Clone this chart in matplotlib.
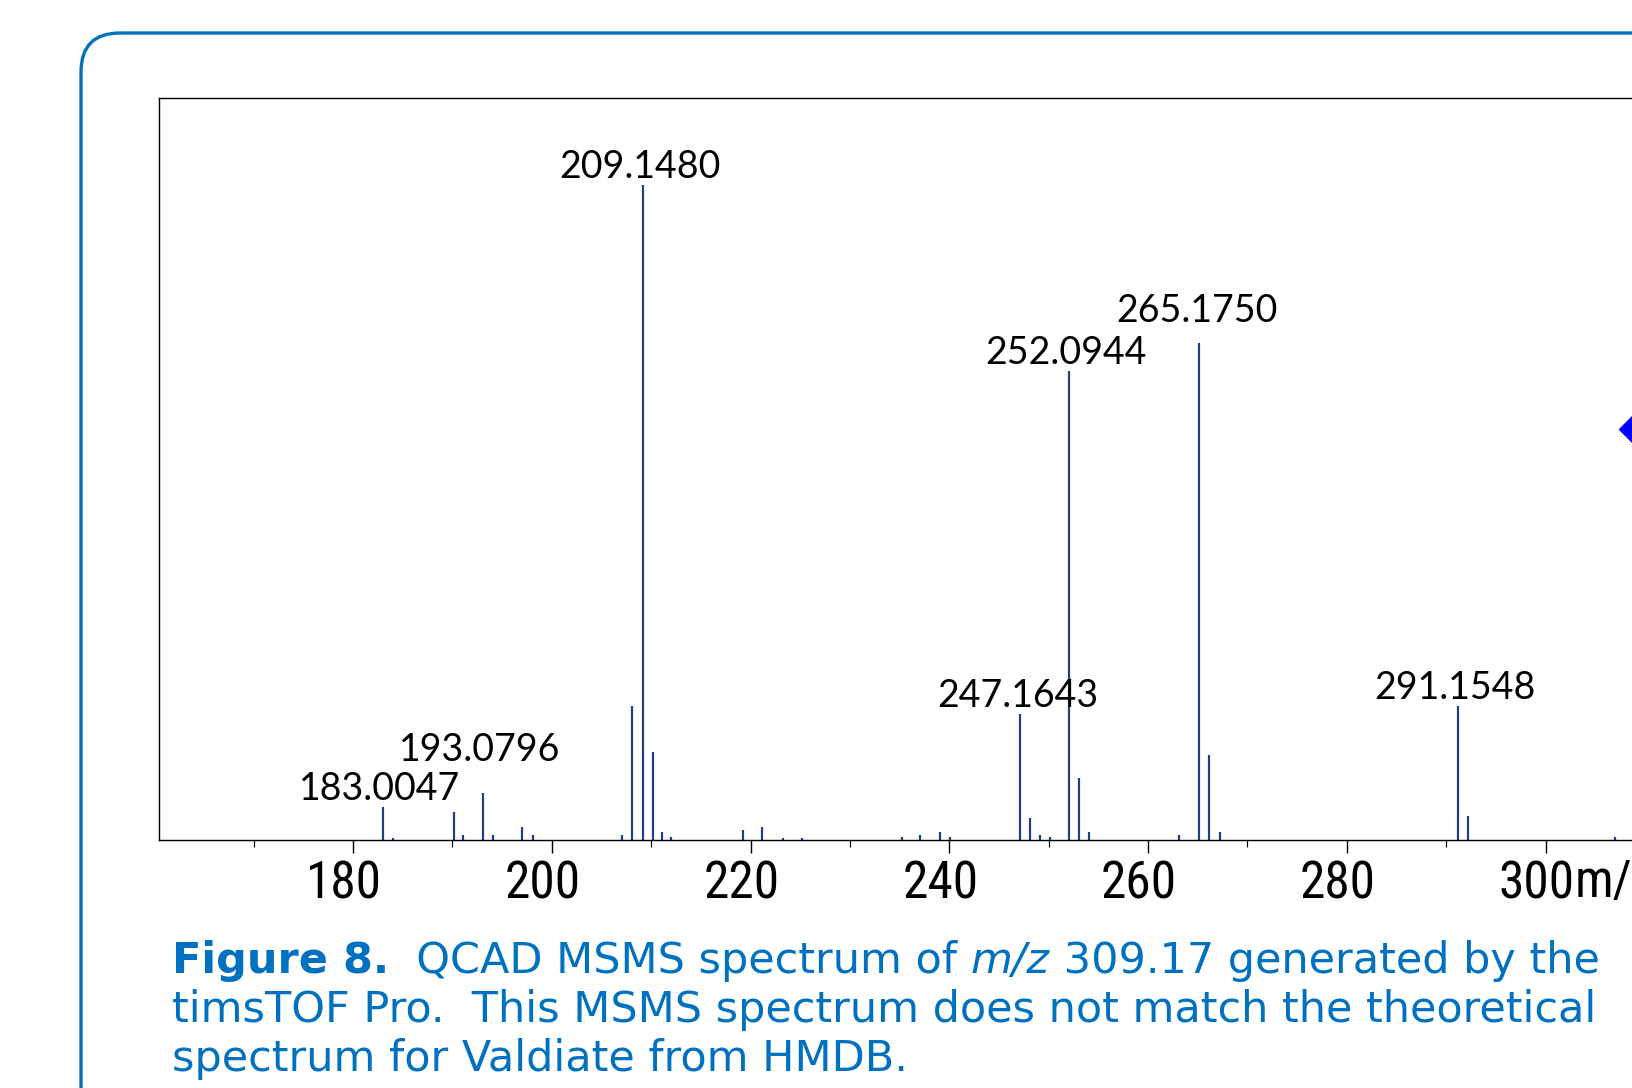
import matplotlib
matplotlib.use("Agg")
import matplotlib.pyplot as plt
from matplotlib import font_manager
from matplotlib.patches import FancyBboxPatch
from matplotlib.transforms import IdentityTransform, ScaledTranslation

# MS/MS peaks (m/z, relative intensity, base peak = 100)
mz = [183.0047, 184.0, 190.2, 191.1, 193.0796, 194.1, 197.0, 198.1,
      207.05, 208.1, 209.1480, 210.15, 211.1, 212.0,
      219.2, 221.2, 223.3, 225.2, 235.2, 237.1, 239.1, 240.1,
      247.1643, 248.1, 249.1, 250.1, 252.0944, 253.05, 254.1,
      263.1, 265.1750, 266.15, 267.2, 291.1548, 292.15, 307.0]
intensity = [5.1, 0.3, 4.3, 0.8, 7.1, 0.8, 2.0, 0.8,
             0.8, 20.5, 100.0, 13.4, 1.2, 0.4,
             1.6, 2.0, 0.3, 0.3, 0.4, 0.7, 1.2, 0.4,
             19.3, 3.3, 0.7, 0.4, 71.6, 9.5, 1.2,
             0.7, 75.8, 13.0, 1.2, 20.5, 3.6, 0.4]

labelled = ["183.0047", "193.0796", "209.1480", "247.1643",
            "252.0944", "265.1750", "291.1548"]
# extra lift (pixels) used in the original to stop labels overlapping
label_lift = {"193.0796": 25.5, "265.1750": 14.5}

precursor_mz = 309.17
precursor_int = 62.7

major_ticks = [180, 200, 220, 240, 260, 280, 300]
minor_ticks = [170, 190, 210, 230, 250, 270, 290, 310]

caption_blue = "#0070C0"
peak_col = "#22407F"

names = {f.name for f in font_manager.fontManager.ttflist}
tick_font = "DejaVu Sans"
for cand in ["Liberation Sans Narrow", "Roboto Condensed", "Open Sans Condensed"]:
    if cand in names:
        tick_font = cand
        break
label_font = "Lato" if "Lato" in names else "DejaVu Sans"

W, H, DPI = 1633, 1088, 100
fig = plt.figure(figsize=(W / DPI, H / DPI), dpi=DPI)
px = 72.0 / DPI  # pixels -> points

# rounded blue frame, runs off the right and bottom edges
frame = FancyBboxPatch((81, -200), 2400, H - 33 + 200,
                       boxstyle="round,pad=0,rounding_size=39",
                       transform=IdentityTransform(), fill=False,
                       edgecolor=caption_blue, linewidth=3.3 * px, clip_on=False)
fig.add_artist(frame)

ax_left, ax_top, ax_bot = 159.3, 98.3, 840.0
x0, x1 = 160.5, 320.0
ppu = 9.937  # pixels per m/z unit
ax = fig.add_axes([ax_left / W, (H - ax_bot) / H,
                   (x1 - x0) * ppu / W, (ax_bot - ax_top) / H])
ax.set_xlim(x0, x1)
ax.set_ylim(0, 113.2)

ax.vlines(mz, 0, intensity, color=peak_col, linewidth=2.2 * px)
ax.plot([precursor_mz], [precursor_int], marker="D", color="#0000FF",
        markersize=26 * px, linestyle="none", clip_on=False)

for m, h in zip(mz, intensity):
    key = "%.4f" % m
    if key in labelled:
        lift = 6.5 + label_lift.get(key, 0)
        ax.annotate(key, (m, h), xytext=(-3 * px, lift * px), textcoords="offset points",
                    ha="center", va="baseline", fontsize=27, family=label_font,
                    color="black")

for s in ax.spines.values():
    s.set_linewidth(1.4 * px)
    s.set_color("black")
ax.set_yticks([])
ax.set_xticks(major_ticks)
ax.set_xticks(minor_ticks, minor=True)
ax.tick_params(axis="x", which="major", length=13 * px, width=1.4 * px,
               pad=5, labelsize=37)
ax.tick_params(axis="x", which="minor", length=7 * px, width=1.2 * px)
shift = ScaledTranslation(-9 / DPI, 0, fig.dpi_scale_trans)
for t in ax.get_xticklabels():
    t.set_family(tick_font)
    t.set_transform(t.get_transform() + shift)

# axis unit written straight after the last tick label
ax.annotate("m/z", (300, 0), xycoords=("data", "axes fraction"),
            xytext=(29 * px, -18 * px), textcoords="offset points",
            ha="left", va="top", fontsize=37, family=tick_font, annotation_clip=False)

# caption
cap_size = 31
cx = 172 / W
cap_kw = dict(fontsize=cap_size, color=caption_blue, family="DejaVu Sans")
prev = fig.text(cx, (H - 972.7) / H, "Figure 8.", weight="bold", va="baseline", **cap_kw)
for txt, style in [("  QCAD MSMS spectrum of ", "normal"), ("m/z", "italic"),
                   (" 309.17 generated by the", "normal")]:
    prev = ax.annotate(txt, xy=(1, 0), xycoords=prev, xytext=(0, 0),
                       textcoords="offset points", va="bottom", ha="left",
                       style=style, annotation_clip=False, **cap_kw)
fig.text(cx, (H - 1021.7) / H,
         "timsTOF Pro.  This MSMS spectrum does not match the theoretical",
         va="baseline", **cap_kw)
fig.text(cx, (H - 1070.5) / H, "spectrum for Valdiate from HMDB.",
         va="baseline", **cap_kw)

fig.savefig("out.png", dpi=DPI)
